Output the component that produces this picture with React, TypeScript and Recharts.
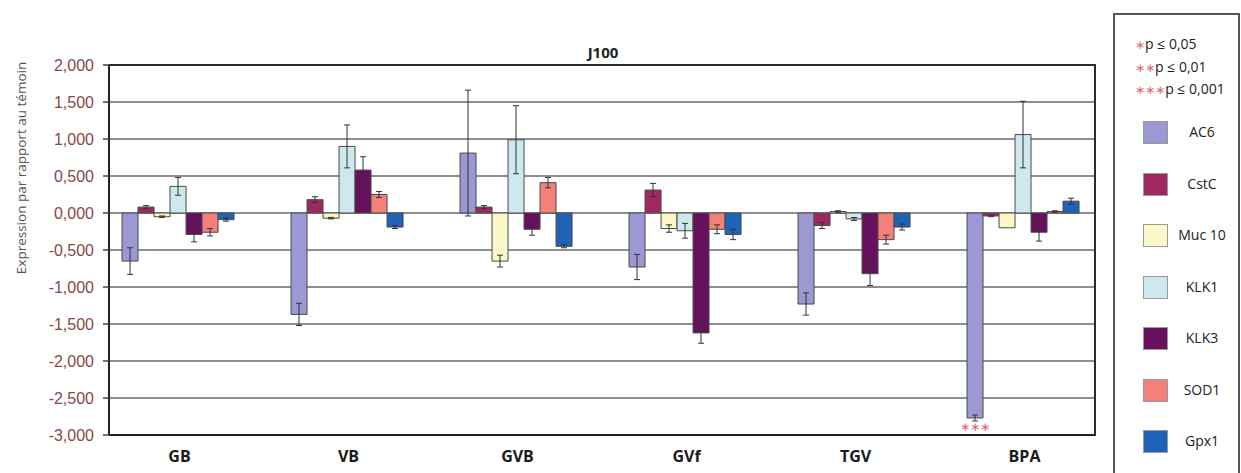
import React from 'react';
import { BarChart, Bar, XAxis, YAxis, CartesianGrid, ErrorBar, LabelList, ReferenceLine } from 'recharts';

const categories = ['GB', 'VB', 'GVB', 'GVf', 'TGV', 'BPA'];
const yTicks = [-3, -2.5, -2, -1.5, -1, -0.5, 0, 0.5, 1, 1.5, 2];

const AC6 = [-0.65, -1.37, 0.81, -0.73, -1.23, -2.77];
const AC6_err = [0.18, 0.15, 0.85, 0.17, 0.15, 0.04];
const CstC = [0.08, 0.18, 0.08, 0.31, -0.17, -0.04];
const CstC_err = [0.02, 0.04, 0.02, 0.09, 0.04, 0.01];
const Muc10 = [-0.05, -0.07, -0.65, -0.21, 0.02, -0.2];
const Muc10_err = [0.01, 0.01, 0.08, 0.05, 0.01, 0];
const KLK1 = [0.36, 0.9, 0.99, -0.24, -0.08, 1.06];
const KLK1_err = [0.12, 0.29, 0.46, 0.1, 0.02, 0.45];
const KLK3 = [-0.29, 0.58, -0.22, -1.62, -0.82, -0.26];
const KLK3_err = [0.1, 0.18, 0.08, 0.14, 0.16, 0.12];
const SOD1 = [-0.26, 0.25, 0.41, -0.22, -0.36, 0.02];
const SOD1_err = [0.05, 0.04, 0.07, 0.06, 0.06, 0.01];
const Gpx1 = [-0.09, -0.19, -0.45, -0.29, -0.19, 0.16];
const Gpx1_err = [0.02, 0.02, 0.02, 0.07, 0.04, 0.04];

const significance = ['', '', '', '', '', '∗∗∗'];

const series = [
  { key: 'AC6', label: 'AC6', values: AC6, errs: AC6_err, color: '#9B98D4' },
  { key: 'CstC', label: 'CstC', values: CstC, errs: CstC_err, color: '#A02860' },
  { key: 'Muc10', label: 'Muc 10', values: Muc10, errs: Muc10_err, color: '#FAF7C8' },
  { key: 'KLK1', label: 'KLK1', values: KLK1, errs: KLK1_err, color: '#CDE9EE' },
  { key: 'KLK3', label: 'KLK3', values: KLK3, errs: KLK3_err, color: '#66105E' },
  { key: 'SOD1', label: 'SOD1', values: SOD1, errs: SOD1_err, color: '#F4807A' },
  { key: 'Gpx1', label: 'Gpx1', values: Gpx1, errs: Gpx1_err, color: '#1F63B8' },
];

const pLegend = [
  { stars: '∗', text: 'p ≤ 0,05' },
  { stars: '∗∗', text: 'p ≤ 0,01' },
  { stars: '∗∗∗', text: 'p ≤ 0,001' },
];

const data = categories.map((c, i) => {
  const row: any = { name: c, sig: significance[i] };
  series.forEach((s) => {
    row[s.key] = s.values[i];
    row[s.key + '_err'] = s.errs[i];
  });
  return row;
});

const fmt = (v: number) => v.toFixed(3).replace('.', ',');

const SigLabel = (props: any) => {
  const { x, y, width, height, index } = props;
  const txt = significance[index];
  if (!txt) return null;
  const bottom = Math.max(y, y + height);
  return (
    <text x={x + width / 2} y={bottom + 13} textAnchor="middle" fill="#E06070" fontSize={12} fontFamily="DejaVu Sans">
      {txt}
    </text>
  );
};

const CHART = { width: 1241, height: 473, top: 65, right: 146, left: 109, bottom: 38 };
const plotW = CHART.width - CHART.left - CHART.right;
const plotH = CHART.height - CHART.top - CHART.bottom;

export default function App() {
  return (
    <div style={{ position: 'absolute', left: 0, top: 0, width: 1241, height: 473, background: '#fff', fontFamily: 'Liberation Sans, Arial, sans-serif' }}>
      <div style={{ position: 'absolute', left: 543, top: 42, width: 120, textAlign: 'center', fontWeight: 'bold', fontSize: 15, color: '#222', fontFamily: 'Open Sans, sans-serif' }}>
        J100
      </div>
      <div
        style={{
          position: 'absolute',
          left: 21 - 150,
          top: 168 - 9,
          width: 300,
          textAlign: 'center',
          transform: 'rotate(-90deg)',
          fontSize: 13.5,
          color: '#555',
          fontFamily: 'Open Sans, sans-serif',
          lineHeight: '18px',
          whiteSpace: 'nowrap',
        }}
      >
        Expression par rapport au témoin
      </div>
      <div style={{ position: 'absolute', left: 0, top: 0 }}>
        <BarChart
          width={CHART.width}
          height={CHART.height}
          data={data}
          margin={{ top: CHART.top, right: CHART.right, bottom: 0, left: 0 }}
          barCategoryGap="16%"
          barGap={0}
        >
          <CartesianGrid vertical={false} stroke="#6a6a6a" strokeWidth={1.6} horizontalValues={yTicks} />
          <ReferenceLine y={2} stroke="#2a2a2a" strokeWidth={2} />
          <XAxis
            dataKey="name"
            height={CHART.bottom}
            padding={{ left: -14, right: -14 }}
            axisLine={{ stroke: '#222', strokeWidth: 2 }}
            tickLine={false}
            tick={{ fill: '#1a1a1a', fontSize: 16, fontWeight: 'bold', fontFamily: 'Open Sans, sans-serif' }}
            tickMargin={10}
            interval={0}
          />
          <YAxis
            width={CHART.left}
            domain={[-3, 2]}
            ticks={yTicks}
            interval={0}
            tickFormatter={fmt}
            axisLine={{ stroke: '#222', strokeWidth: 2 }}
            tickLine={{ stroke: '#444', strokeWidth: 1.5 }}
            tickSize={6}
            tickMargin={9}
            tick={{ fill: '#8a4646', fontSize: 16, fontFamily: 'Liberation Sans, Arial' }}
            allowDataOverflow
          />
          {series.map((s) => (
            <Bar key={s.key} dataKey={s.key} fill={s.color} stroke="#4a4a4a" strokeWidth={1} isAnimationActive={false}>
              <ErrorBar dataKey={s.key + '_err'} width={3} stroke="#333" strokeWidth={1} direction="y" />
              {s.key === 'AC6' ? <LabelList dataKey="sig" content={SigLabel} /> : null}
            </Bar>
          ))}
        </BarChart>
      </div>
      <div
        style={{
          position: 'absolute',
          zIndex: 10,
          left: CHART.left + plotW - 1,
          top: CHART.top - 1,
          width: 2,
          height: plotH + 2,
          background: '#2a2a2a',
        }}
      />
      <div
        style={{
          position: 'absolute',
          zIndex: 10,
          left: CHART.left,
          top: CHART.top - 1,
          width: plotW,
          height: 2,
          background: '#2a2a2a',
        }}
      />
      <div
        style={{
          position: 'absolute',
          left: 1113,
          top: 13,
          width: 127,
          height: 470,
          borderLeft: '2px solid #555',
          borderTop: '2px solid #555',
          borderRight: '2px solid #555',
          boxSizing: 'border-box',
          fontFamily: 'Open Sans, sans-serif',
        }}
      >
        {pLegend.map((p, i) => (
          <div key={i} style={{ position: 'absolute', left: 20, top: 20 + i * 22.5, fontSize: 14, color: '#222', whiteSpace: 'nowrap', lineHeight: '18px' }}>
            <span style={{ color: '#E06070', fontFamily: 'DejaVu Sans', fontSize: 12 }}>{p.stars}</span>
            {p.text}
          </div>
        ))}
        {series.map((s, i) => (
          <div key={s.key}>
            <div
              style={{
                position: 'absolute',
                left: 28,
                top: 106 + i * 51.5,
                width: 25,
                height: 23,
                background: s.color,
                border: '1px solid #999',
                boxSizing: 'border-box',
              }}
            />
            <div style={{ position: 'absolute', left: 55, width: 64, textAlign: 'center', top: 108 + i * 51.5, fontSize: 14, color: '#222', lineHeight: '18px', whiteSpace: 'nowrap' }}>
              {s.label}
            </div>
          </div>
        ))}
      </div>
    </div>
  );
}
